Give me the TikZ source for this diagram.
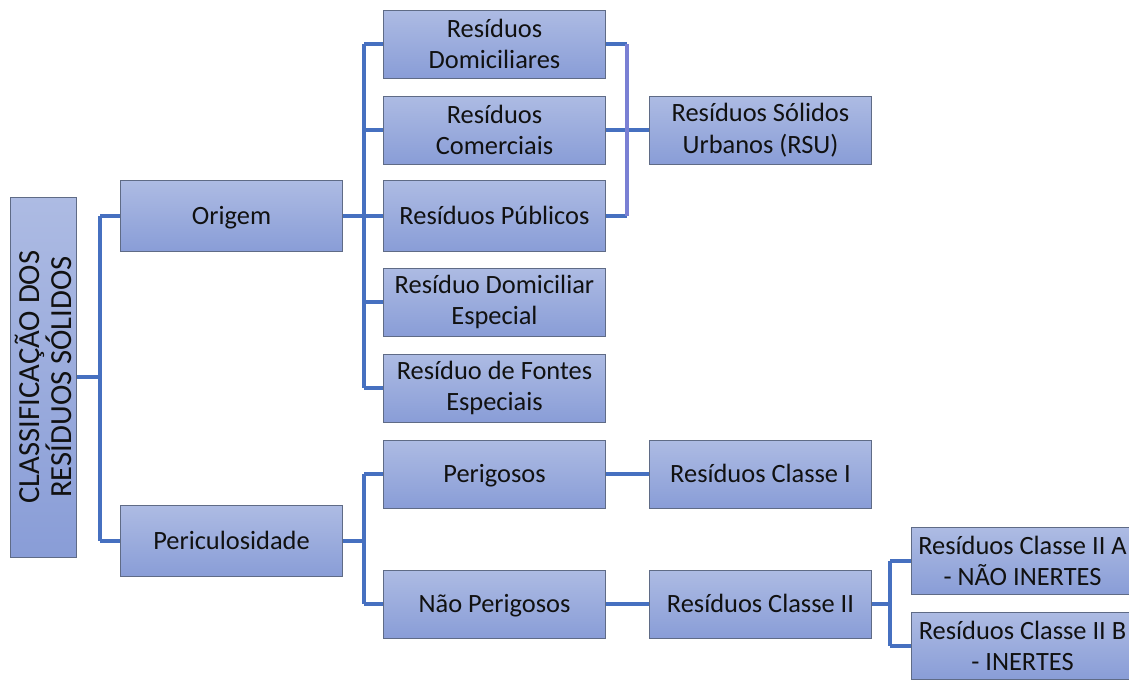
\documentclass[tikz,border=0pt]{standalone}
\usepackage{fontspec}
\setmainfont{Carlito}
\usetikzlibrary{positioning}
\definecolor{boxtop}{HTML}{ADBBE3}
\definecolor{boxbot}{HTML}{899DD7}
\definecolor{boxline}{HTML}{5F6B86}
\definecolor{conn}{HTML}{4670C0}
\definecolor{connb}{HTML}{7A80D4}
\definecolor{txt}{HTML}{111111}
\tikzset{
  px/.style={x=0.75pt,y=-0.75pt},
  box/.style={draw=boxline,line width=0.6pt,top color=boxtop,bottom color=boxbot,
    minimum width=166pt,minimum height=51pt,align=center,inner sep=0pt,
    font=\fontsize{19.8pt}{23.5pt}\selectfont,text=txt},
  one/.style={text height=16.5pt,text depth=3.5pt},
  tall/.style={box,minimum height=53pt},
  conline/.style={draw=conn,line width=2.6pt},
  conlineb/.style={draw=connb,line width=2.6pt},
}
\begin{document}
\begin{tikzpicture}[px]
\useasboundingbox (0,0) rectangle (1129,679);
\clip (0,0) rectangle (1129,679);
% root
\node[box,minimum width=270pt,minimum height=50pt,rotate=90,font=\fontsize{23pt}{24pt}\selectfont] (root) at (43.5,377) {CLASSIFICAÇÃO DOS\\RESÍDUOS SÓLIDOS};
% level 1
\node[tall,one] (orig) at (231.5,216) {Origem};
\node[tall,one] (peri) at (231.5,541) {Periculosidade};
% level 2
\node[box] (dom) at (494.5,44) {Resíduos\\Domiciliares};
\node[box] (com) at (494.5,130) {Resíduos\\Comerciais};
\node[tall,one] (pub) at (494.5,216) {Resíduos Públicos};
\node[box] (dome) at (494.5,302) {Resíduo Domiciliar\\Especial};
\node[box] (font) at (494.5,388) {Resíduo de Fontes\\Especiais};
\node[box,one] (per) at (494.5,474) {Perigosos};
\node[box,one] (nper) at (494.5,604) {Não Perigosos};
% level 3
\node[box] (rsu) at (760.5,130) {Resíduos Sólidos\\Urbanos (RSU)};
\node[box,one] (c1) at (760.5,474) {Resíduos Classe I};
\node[box,one] (c2) at (760.5,604) {Resíduos Classe II};
% level 4
\node[box,minimum height=50pt] (c2a) at (1022.5,561) {Resíduos Classe II A\\- NÃO INERTES};
\node[box,minimum height=50pt] (c2b) at (1022.5,646) {Resíduos Classe II B\\- INERTES};
% connectors
\coordinate (b0) at (100,0);
\draw[conline] (root.south) -- (b0 |- root.south);
\draw[conline] (b0 |- orig.west) -- (b0 |- peri.west);
\draw[conline] (b0 |- orig.west) -- (orig.west);
\draw[conline] (b0 |- peri.west) -- (peri.west);
\coordinate (b1) at (364,0);
\draw[conline] (orig.east) -- (b1 |- orig.east);
\draw[conline] (b1 |- dom.west) -- (b1 |- font.west);
\foreach \n in {dom,com,pub,dome,font} \draw[conline] (b1 |- \n.west) -- (\n.west);
\draw[conline] (peri.east) -- (b1 |- peri.east);
\draw[conline] (b1 |- per.west) -- (b1 |- nper.west);
\draw[conline] (b1 |- per.west) -- (per.west);
\draw[conline] (b1 |- nper.west) -- (nper.west);
\coordinate (b2) at (627,0);
\draw[conline] (dom.east) -- (b2 |- dom.east);
\draw[conline] (com.east) -- (rsu.west);
\draw[conline] (pub.east) -- (b2 |- pub.east);
\draw[conlineb] (b2 |- dom.east) -- (b2 |- pub.east);
\draw[conline] (per.east) -- (c1.west);
\draw[conline] (nper.east) -- (c2.west);
\coordinate (b3) at (890,0);
\draw[conline] (c2.east) -- (b3 |- c2.east);
\draw[conline] (b3 |- c2a.west) -- (b3 |- c2b.west);
\draw[conline] (b3 |- c2a.west) -- (c2a.west);
\draw[conline] (b3 |- c2b.west) -- (c2b.west);
\end{tikzpicture}
\end{document}
